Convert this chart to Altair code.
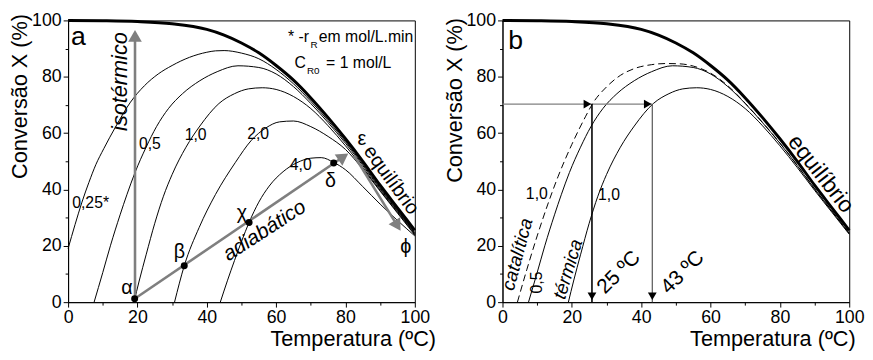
import altair as alt
import pandas as pd

FONT = "Liberation Sans"
GRAY = "#7f7f7f"

# ---------------- data ----------------
eq_T = [0, 10, 20, 30, 40, 45, 50, 55, 60, 65, 70, 75, 80, 85, 90, 95, 100]
eq_X = [100, 99.9, 99.6, 98.8, 96.8, 94.8, 92, 88.5, 84, 78.8, 72.5, 65.5, 58, 50, 41.5, 33.5, 25.5]

c025_T = [0, 2, 4, 6, 8, 10.3, 13.6, 18, 22, 26, 30, 35, 40, 42.5, 45, 50, 55, 60, 65, 70, 75, 80, 85, 90, 95, 100]
c025_X = [19, 27.5, 35.5, 42.5, 48.8, 54.5, 62, 71, 76.8, 81, 84, 86.9, 88.7, 89.2, 89.3, 88.4, 86.4, 82.6, 77.5, 71.3, 64.4, 57, 49, 40.6, 32.6, 24.7]

c05_T = [7.5, 10, 12.2, 15, 17, 19.3, 22.5, 25.5, 29, 33, 38, 43, 49, 55, 60, 65, 70, 75, 80, 85, 90, 95, 100]
c05_X = [0, 10.5, 20, 31, 38.3, 46, 55, 62.3, 68.8, 74, 78.6, 81.8, 83.9, 83.3, 81, 76.5, 70.5, 63.7, 56.4, 48.5, 40.2, 32.3, 24.4]

c10_T = [19, 20.5, 22.5, 25, 27.5, 30, 34, 38, 43.5, 48, 52, 56, 60, 65, 70, 75, 80, 85, 90, 95, 100]
c10_X = [0, 7.5, 16.8, 28, 37.6, 45.3, 55, 62.5, 70.5, 74, 75.7, 76.1, 75.5, 73, 68.7, 62.6, 55.5, 47.8, 39.7, 31.9, 24.1]

c20_T = [30.7, 33.5, 37.8, 42.5, 48.2, 52.9, 57, 61, 65, 70, 75, 80, 85, 90, 95, 100]
c20_X = [0, 12.9, 26.5, 38.2, 49.5, 57.5, 61.8, 64, 64.3, 62.3, 58.8, 54.2, 47.2, 39.4, 31.6, 23.8]

c40_T = [43.9, 46, 48, 50, 52.2, 55, 58, 62, 66, 70, 73, 76.6, 80, 85, 90, 95, 100]
c40_X = [0, 7.8, 14.8, 21.5, 28.3, 35.5, 41.2, 46.3, 49.5, 51.1, 51.3, 49.6, 47, 41, 34.8, 29, 23.5]

cat10_T = [4.3, 7, 10, 13, 16, 20, 24, 26, 30, 34, 38, 43, 47, 51, 55, 60, 65, 70, 75, 80, 85, 90, 95, 100]
cat10_X = [0, 11.5, 23.5, 34.5, 44.5, 56, 66, 70.5, 76.4, 80.5, 82.9, 84.3, 84.7, 84.6, 83.8, 81.3, 76.8, 70.6, 63.8, 56.5, 48.6, 40.3, 32.4, 24.5]

pt_names = ["α", "β", "χ", "δ"]
pt_T = [19.2, 33.5, 52.2, 76.6]
pt_X = [1.2, 12.9, 28.3, 49.4]

target_X = 70.3          # horizontal reading line, panel b
temps_b = [25.8, 43.2]   # read temperatures, panel b

# ---------------- helpers ----------------
xs = alt.Scale(domain=[0, 100], nice=False)
ys = alt.Scale(domain=[0, 100], nice=False)

tick_cond = {"condition": {"test": "datum.value % 20 === 0", "value": 5}, "value": 3}
LBL = "datum.value % 20 === 0 ? datum.label : ''"


def make_axes(title_x, title_y, ytitle_y):
    xa = alt.Axis(values=list(range(0, 101, 10)), labelExpr=LBL,
                  tickSize=tick_cond, grid=False, title="Temperatura (ºC)", labelFlush=False,
                  titleX=title_x, titleY=title_y, titleAlign="right", titleBaseline="alphabetic",
                  labelFontSize=18, titleFontSize=22, labelPadding=2)
    ya = alt.Axis(values=list(range(0, 101, 10)), labelExpr=LBL,
                  tickSize=tick_cond, grid=False, title="Conversão X (%)", labelFlush=False,
                  titleX=-37, titleY=ytitle_y, titleAnchor="end", titleAlign="right",
                  titleBaseline="bottom", titleAngle=270,
                  labelFontSize=18, titleFontSize=22, labelPadding=2)
    return xa, ya


class Panel:
    def __init__(self, xa, ya):
        self.xa, self.ya = xa, ya

    def enc(self, ch):
        return ch.encode(x=alt.X("T:Q", scale=xs, axis=self.xa), y=alt.Y("X:Q", scale=ys, axis=self.ya))

    def curve(self, ts, xv, width=1.0, dash=None, color="black"):
        df = pd.DataFrame({"T": ts, "X": xv, "i": list(range(len(ts)))})
        kw = dict(color=color, strokeWidth=width, interpolate="monotone")
        if dash:
            kw["strokeDash"] = dash
        return self.enc(alt.Chart(df).mark_line(**kw)).encode(order="i:Q")

    def seg(self, t1, x1, t2, x2, color=GRAY, width=2.6):
        df = pd.DataFrame({"T": [t1], "X": [x1], "T2": [t2], "X2": [x2]})
        return self.enc(alt.Chart(df).mark_rule(color=color, strokeWidth=width)).encode(x2="T2:Q", y2="X2:Q")

    def head(self, t, x, angle=0, size=190, color=GRAY, shape="triangle-up"):
        df = pd.DataFrame({"T": [t], "X": [x]})
        return self.enc(alt.Chart(df).mark_point(shape=shape, angle=angle, size=size, filled=True,
                                                 color=color, opacity=1, strokeWidth=0))

    def label(self, txt, t, x, size=14, angle=0, italic=False, align="center", baseline="middle"):
        df = pd.DataFrame({"T": [t], "X": [x], "txt": [txt]})
        m = alt.Chart(df).mark_text(font=FONT, fontSize=size, angle=angle, align=align, baseline=baseline,
                                    color="black", fontStyle="italic" if italic else "normal")
        return self.enc(m).encode(text="txt:N")


# ---------------- panel a ----------------
A = Panel(*make_axes(373, 44, -7))
pts_df = pd.DataFrame({"T": pt_T, "X": pt_X, "n": pt_names})

left_layers = [
    A.curve(c025_T, c025_X), A.curve(c05_T, c05_X), A.curve(c10_T, c10_X),
    A.curve(c20_T, c20_X), A.curve(c40_T, c40_X),
    A.curve(eq_T, eq_X, width=3.0),
    A.seg(19.3, 1.2, 19.3, 93), A.head(19.3, 94.5, 0),
    A.seg(19.2, 1.2, 79.4, 51.6), A.head(79.4, 51.6, 55.7),
    A.seg(82.5, 52, 95.0, 27.1), A.head(95.0, 27.1, 148.4),
    A.enc(alt.Chart(pts_df).mark_circle(color="black", size=50, opacity=1)),
    A.label("a", 3, 94, size=27, align="center"),
    A.label("*  -r", 69.5, 94.1, size=16, align="right"),
    A.label("R", 69.9, 91.4, size=10, align="left"),
    A.label("em mol/L.min", 72.3, 94.1, size=16, align="left"),
    A.label("C", 65.3, 84.8, size=16, align="left"),
    A.label("R0", 68.9, 82.2, size=10, align="left"),
    A.label("= 1 mol/L", 74.4, 84.8, size=16, align="left"),
    A.label("isotérmico", 15, 78.3, size=22, angle=270, italic=True),
    A.label("adiabático", 56.7, 25.3, size=21, angle=327, italic=True),
    A.label("equilíbrio", 93.2, 43.3, size=20, angle=54),
    A.label("0,25*", 6.5, 35.2, size=16),
    A.label("0,5", 23.6, 56.2, size=16),
    A.label("1,0", 36.8, 59.2, size=16),
    A.label("2,0", 54.8, 59.6, size=16),
    A.label("4,0", 67.1, 48.5, size=16),
    A.label("α", 17, 5, size=20),
    A.label("β", 32.1, 17.8, size=20),
    A.label("χ", 50.1, 31.7, size=20),
    A.label("δ", 75.7, 42.8, size=20),
    A.label("ε", 84.7, 58, size=20),
    A.label("ϕ", 97.4, 19.5, size=20),
]
left = alt.layer(*left_layers).properties(width=352, height=286)

# ---------------- panel b ----------------
B = Panel(*make_axes(358, 44, -3))

right_layers = [
    B.curve(c05_T, c05_X), B.curve(c10_T, c10_X),
    B.curve(cat10_T, cat10_X, dash=[7, 4]),
    B.curve(eq_T, eq_X, width=3.0),
    B.seg(0, target_X, temps_b[1], target_X, color="#808080", width=1.2),
    B.seg(temps_b[0], target_X, temps_b[0], 0, color="black", width=1.6),
    B.seg(temps_b[1], target_X, temps_b[1], 0, color="#555555", width=1.2),
    B.head(temps_b[0] - 1.3, target_X, 0, 80, "black", "triangle-right"),
    B.head(temps_b[1] - 1.3, target_X, 0, 80, "black", "triangle-right"),
    B.head(temps_b[0], 2.1, 0, 80, "black", "triangle-down"),
    B.head(temps_b[1], 2.1, 0, 80, "black", "triangle-down"),
    B.label("b", 3.8, 92.7, size=27),
    B.label("catalítica", 4.3, 17, size=19, angle=285, italic=True),
    B.label("térmica", 18.9, 11.7, size=19, angle=287, italic=True),
    B.label("1,0", 9.9, 38.5, size=16),
    B.label("0,5", 9.9, 7, size=16, angle=270),
    B.label("1,0", 30.7, 37.9, size=16),
    B.label("25 ºC", 33.6, 10.5, size=21, angle=315),
    B.label("43 ºC", 52, 10.5, size=21, angle=315),
    B.label("equilíbrio", 91.8, 45.5, size=23, angle=52),
]
right = alt.layer(*right_layers).properties(width=352, height=286)

chart = alt.hconcat(left, right, spacing=6).properties(
    padding={"left": 0, "top": 0, "right": 0, "bottom": 0}
).configure_view(stroke="black", strokeWidth=1).configure_axis(
    labelFont=FONT, titleFont=FONT, labelColor="black", titleColor="black",
    domainColor="black", tickColor="black", titleFontWeight="normal"
).configure_text(font=FONT)

chart.save("out.html", embed_options={"renderer": "svg", "actions": False})
